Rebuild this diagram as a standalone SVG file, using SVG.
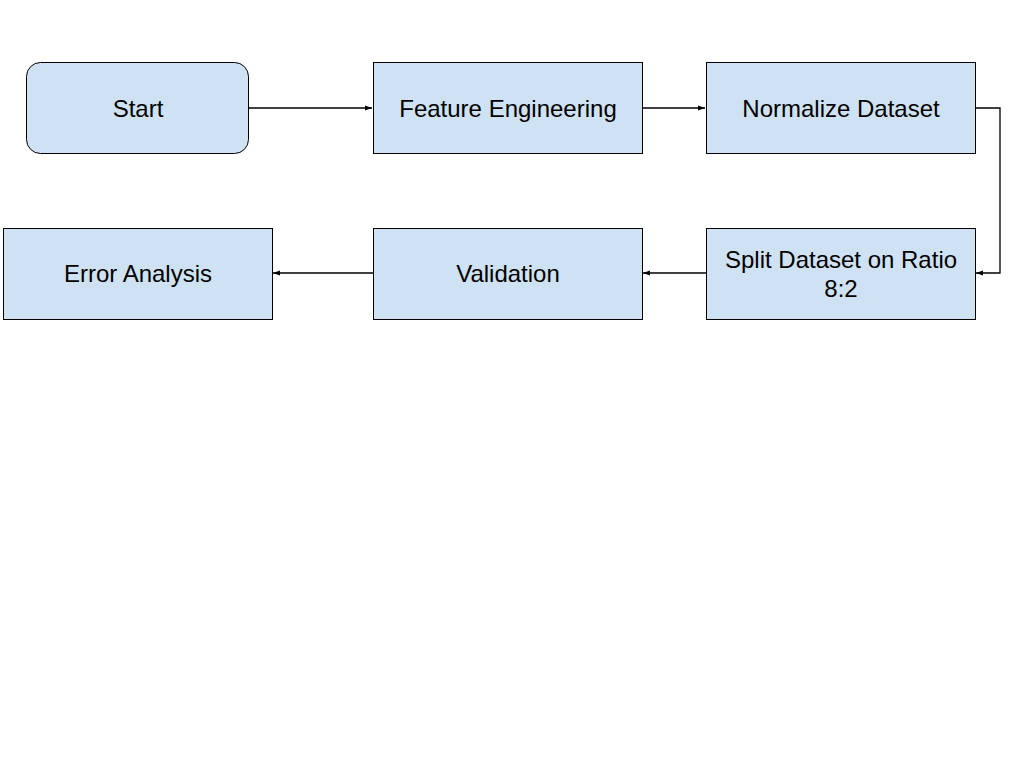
<svg xmlns="http://www.w3.org/2000/svg" width="1024" height="768" viewBox="0 0 1024 768">
<style>
.n{fill:#cfe2f3;stroke:#000;stroke-width:1}
.t{font-family:"Liberation Sans",Arial,sans-serif;font-size:24px;fill:#000;text-anchor:middle}
.c{fill:none;stroke:#000;stroke-width:1.3}
</style>
<defs>
<marker id="a" markerWidth="8" markerHeight="6" refX="7" refY="3" orient="auto" markerUnits="userSpaceOnUse">
<path d="M0,0.5 L7,3 L0,5.5 Z" fill="#000"/>
</marker>
</defs>
<rect width="1024" height="768" fill="#fff"/>
<g id="connectors">
<path class="c" d="M249,108 H372" marker-end="url(#a)"/>
<path class="c" d="M642,108 H705" marker-end="url(#a)"/>
<path class="c" d="M975,108 H1000 V273 H976" marker-end="url(#a)"/>
<path class="c" d="M706,273 H643" marker-end="url(#a)"/>
<path class="c" d="M373,273 H273" marker-end="url(#a)"/>
</g>
<g id="start"><rect class="n" x="26.5" y="62.5" width="222" height="91" rx="14"/><text class="t" x="138" y="117">Start</text></g>
<g id="feature"><rect class="n" x="373.5" y="62.5" width="269" height="91"/><text class="t" x="508" y="117">Feature Engineering</text></g>
<g id="normalize"><rect class="n" x="706.5" y="62.5" width="269" height="91"/><text class="t" x="841" y="117">Normalize Dataset</text></g>
<g id="split"><rect class="n" x="706.5" y="228.5" width="269" height="91"/><text class="t" x="841" y="268">Split Dataset on Ratio</text><text class="t" x="841" y="297">8:2</text></g>
<g id="validation"><rect class="n" x="373.5" y="228.5" width="269" height="91"/><text class="t" x="508" y="282">Validation</text></g>
<g id="error"><rect class="n" x="3.5" y="228.5" width="269" height="91"/><text class="t" x="138" y="282">Error Analysis</text></g>
</svg>
